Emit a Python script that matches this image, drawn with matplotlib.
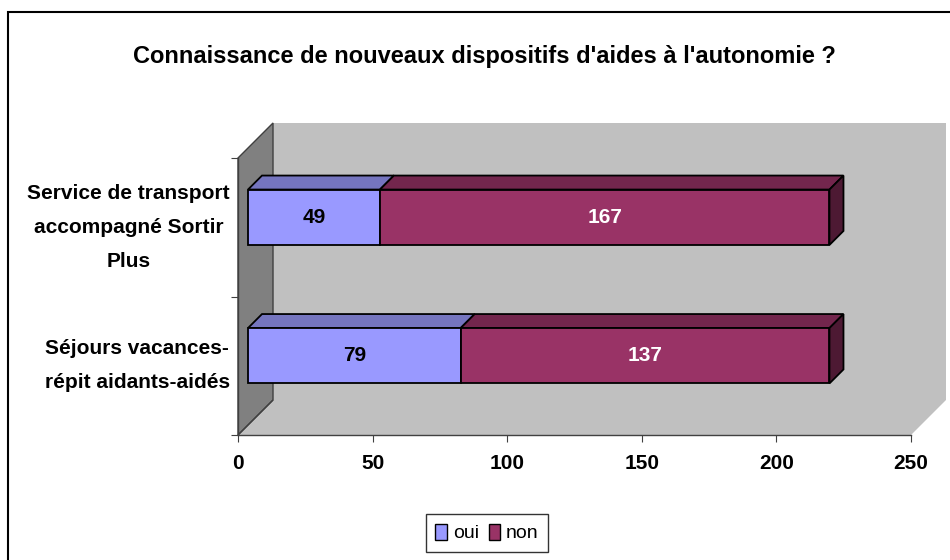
import matplotlib
matplotlib.use('Agg')
import matplotlib.pyplot as plt
from matplotlib.patches import Polygon, Rectangle, Patch
from matplotlib.transforms import offset_copy

plt.rcParams['font.family'] = ['Liberation Sans Narrow', 'Liberation Sans', 'DejaVu Sans']

# data (bottom category first)
categories = ['Séjours vacances-\nrépit aidants-aidés',
              'Service de transport\naccompagné Sortir\nPlus']
oui = [79, 49]
non = [137, 167]
series_names = ['oui', 'non']
xticks = [0, 50, 100, 150, 200, 250]

# colours: front, top, side
col_oui = ('#9999FF', '#7575BF', '#5C5C99')
col_non = ('#993366', '#73264D', '#4D1933')

W, H = 950, 560
fig = plt.figure(figsize=(W / 100, H / 100), dpi=100)
fig.patch.set_facecolor('white')

# chart frame (cut off on the right and bottom, like the original)
fig.patches.append(Rectangle((8 / W, -0.1), 1.2, 1.1 - 12 / H, transform=fig.transFigure,
                             fill=False, edgecolor='black', linewidth=1.5))

ax = fig.add_axes([238 / W, 125 / H, 673 / W, 277 / H])
ax.set_xlim(0, 250)
ax.set_ylim(0, 2)
ax.set_facecolor('none')

WALL = 35      # depth of walls, pixels
FRONT = 10     # bar front face offset
BACK = 24      # bar back face offset


def sh(x, y, d):
    px, py = ax.transData.transform((x, y))
    return tuple(ax.transData.inverted().transform((px + d, py + d)))


# walls and floor
left_wall = [(0, 0), (0, 2), sh(0, 2, WALL), sh(0, 0, WALL)]
back_wall = [sh(0, 0, WALL), sh(0, 2, WALL), sh(250, 2, WALL), sh(250, 0, WALL)]
floor = [(0, 0), (250, 0), sh(250, 0, WALL), sh(0, 0, WALL)]
ax.add_patch(Polygon(back_wall, closed=True, facecolor='#C0C0C0', edgecolor='none',
                     clip_on=False, zorder=0))
ax.add_patch(Polygon(floor, closed=True, facecolor='#C0C0C0', edgecolor='none',
                     clip_on=False, zorder=0))
ax.add_patch(Polygon(left_wall, closed=True, facecolor='#808080', edgecolor='#404040',
                     linewidth=1, clip_on=False, zorder=1))
ax.add_patch(Polygon(floor[0:1] + floor[3:4], closed=False, fill=False, edgecolor='#404040',
                     linewidth=1, clip_on=False, zorder=1))

# bars
bar_h = 0.4
for i in range(len(categories)):
    y0 = i + 0.5 - bar_h / 2
    y1 = y0 + bar_h
    segs = [(0, oui[i], col_oui), (oui[i], oui[i] + non[i], col_non)]
    for k, (a, b, cols) in enumerate(segs):
        top = [sh(a, y1, FRONT), sh(b, y1, FRONT), sh(b, y1, BACK), sh(a, y1, BACK)]
        ax.add_patch(Polygon(top, closed=True, facecolor=cols[1], edgecolor='black',
                             linewidth=1.3, clip_on=False, zorder=3))
        front = [sh(a, y0, FRONT), sh(b, y0, FRONT), sh(b, y1, FRONT), sh(a, y1, FRONT)]
        ax.add_patch(Polygon(front, closed=True, facecolor=cols[0], edgecolor='black',
                             linewidth=1.3, clip_on=False, zorder=4))
        if k == len(segs) - 1:
            side = [sh(b, y0, FRONT), sh(b, y0, BACK), sh(b, y1, BACK), sh(b, y1, FRONT)]
            ax.add_patch(Polygon(side, closed=True, facecolor=cols[2], edgecolor='black',
                                 linewidth=1.3, clip_on=False, zorder=3))

# value labels on the front faces
tr = offset_copy(ax.transData, fig=fig, x=FRONT, y=FRONT, units='dots')
for i in range(len(categories)):
    ax.text(oui[i] / 2, i + 0.5, str(oui[i]), transform=tr, ha='center', va='center',
            fontsize=15, fontweight='bold', color='black', zorder=5)
    ax.text(oui[i] + non[i] / 2, i + 0.5, str(non[i]), transform=tr, ha='center',
            va='center', fontsize=15, fontweight='bold', color='white', zorder=5)

# axes
for s in ['top', 'right']:
    ax.spines[s].set_visible(False)
for s in ['left', 'bottom']:
    ax.spines[s].set_color('#404040')
    ax.spines[s].set_linewidth(1)
    ax.spines[s].set_zorder(2)
ax.set_xticks(xticks)
ax.set_xticklabels([str(t) for t in xticks], fontsize=15, fontweight='bold')
ax.tick_params(axis='x', length=5, color='#404040', pad=9)
ax.set_yticks([0, 1, 2])
ax.set_yticklabels([])
ax.tick_params(axis='y', which='major', length=5, color='#404040')
ax.set_yticks([0.5, 1.5], minor=True)
ax.set_yticklabels(categories, minor=True, fontsize=15, fontweight='bold',
                   multialignment='center', linespacing=2.0)
for lbl in ax.get_yticklabels(minor=True):
    lbl.set_verticalalignment('center')
ax.tick_params(axis='y', which='minor', length=0, pad=6)

fig.text(484 / W, 1 - 57 / H, "Connaissance de nouveaux dispositifs d'aides à l'autonomie ?",
         ha='center', va='center', fontsize=17, fontweight='bold')

handles = [Patch(facecolor=col_oui[0], edgecolor='black'),
           Patch(facecolor=col_non[0], edgecolor='black')]
leg = fig.legend(handles, series_names, loc='center', bbox_to_anchor=(487 / W, 1 - 533 / H),
                 ncol=2, fontsize=14, frameon=True, fancybox=False, handlelength=0.6,
                 handleheight=0.9, handletextpad=0.3, columnspacing=0.5, borderpad=0.5)
leg.get_frame().set_edgecolor('black')
leg.get_frame().set_linewidth(1)

fig.savefig('out.png', dpi=100)
